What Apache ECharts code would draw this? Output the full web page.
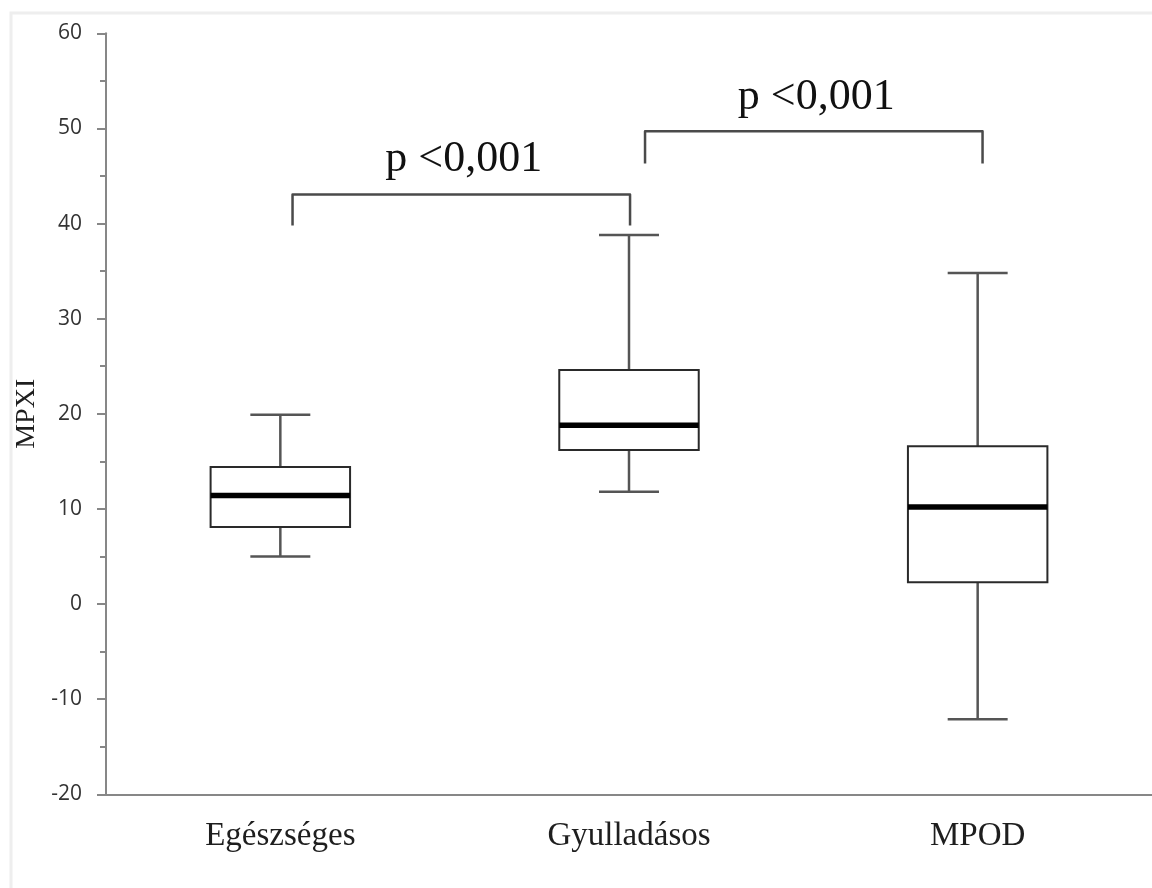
<!DOCTYPE html>
<html>
<head>
<meta charset="utf-8">
<script src="https://cdn.jsdelivr.net/npm/echarts@6/dist/echarts.min.js"></script>
<style>
  html, body { margin: 0; padding: 0; background: #fff; }
  #chart { width: 1152px; height: 888px; }
</style>
</head>
<body>
<div id="chart"></div>
<script>
// box plot values
const categories = ['Egészséges', 'Gyulladásos', 'MPOD'];
const whiskerLow = [5.0, 11.8, -12.1];
const q1 = [8.1, 16.2, 2.3];
const median = [11.4, 18.8, 10.2];
const q3 = [14.4, 24.6, 16.6];
const whiskerHigh = [19.9, 38.8, 34.8];

// significance brackets: [left x, right x, top y, leg bottom y] on a 0..2 category scale
const brackets = [
  [0.035, 1.003, 43.05, 39.8],
  [1.046, 2.014, 49.7, 46.3]
];
const bracketLabels = ['p <0,001', 'p <0,001'];
const bracketLabelPos = [[0.526, 46.7], [1.537, 53.3]];

const yTicks = { min: -20, max: 60, interval: 10 };

const chart = echarts.init(document.getElementById('chart'));

const boxData = categories.map((c, i) => [i, whiskerLow[i], q1[i], median[i], q3[i], whiskerHigh[i]]);
const bracketData = brackets.map((b, i) => [b[0], b[1], b[2], b[3], bracketLabelPos[i][0], bracketLabelPos[i][1], i]);

function renderBox(params, api) {
  const idx = api.value(0);
  const band = api.size([1, 0])[0];
  const boxW = band * 0.4;
  const capW = band * 0.172;
  const low = api.coord([idx, api.value(1)]);
  const lo = api.coord([idx, api.value(2)]);
  const med = api.coord([idx, api.value(3)]);
  const hi = api.coord([idx, api.value(4)]);
  const high = api.coord([idx, api.value(5)]);
  const x = low[0];
  const whisker = { stroke: '#555', lineWidth: 2.5 };
  return {
    type: 'group',
    children: [
      { type: 'line', shape: { x1: x, y1: low[1], x2: x, y2: lo[1] }, style: whisker },
      { type: 'line', shape: { x1: x, y1: hi[1], x2: x, y2: high[1] }, style: whisker },
      { type: 'line', shape: { x1: x - capW / 2, y1: low[1], x2: x + capW / 2, y2: low[1] }, style: whisker },
      { type: 'line', shape: { x1: x - capW / 2, y1: high[1], x2: x + capW / 2, y2: high[1] }, style: whisker },
      {
        type: 'rect',
        shape: { x: x - boxW / 2, y: hi[1], width: boxW, height: lo[1] - hi[1] },
        style: { fill: '#fff', stroke: '#2a2a2a', lineWidth: 2 }
      },
      {
        type: 'line',
        shape: { x1: x - boxW / 2, y1: med[1], x2: x + boxW / 2, y2: med[1] },
        style: { stroke: '#000', lineWidth: 5.5 }
      }
    ]
  };
}

function renderBracket(params, api) {
  const l = api.coord([api.value(0), api.value(3)]);
  const lt = api.coord([api.value(0), api.value(2)]);
  const rt = api.coord([api.value(1), api.value(2)]);
  const r = api.coord([api.value(1), api.value(3)]);
  const t = api.coord([api.value(4), api.value(5)]);
  return {
    type: 'group',
    children: [
      {
        type: 'polyline',
        shape: { points: [l, lt, rt, r] },
        style: { stroke: '#4a4a4a', lineWidth: 2.5, fill: null, lineJoin: 'round' }
      },
      {
        type: 'text',
        x: t[0],
        y: t[1],
        style: {
          text: bracketLabels[api.value(6)],
          fill: '#111',
          font: '44px "Liberation Serif", "Times New Roman", serif',
          align: 'center',
          verticalAlign: 'middle'
        }
      }
    ]
  };
}

chart.setOption({
  animation: false,
  backgroundColor: '#fff',
  graphic: [
    {
      type: 'rect',
      shape: { x: 11, y: 13, width: 1160, height: 900 },
      style: { fill: null, stroke: '#eeeeee', lineWidth: 3 },
      silent: true
    }
  ],
  grid: { left: 106, top: 33.3, width: 1048, bottom: 93.7 },
  xAxis: [
    {
      type: 'category',
      data: categories,
      axisLine: { onZero: false, lineStyle: { color: '#878787', width: 2 } },
      axisTick: { length: 10, lineStyle: { color: '#878787', width: 2 } },
      axisLabel: {
        margin: 26,
        color: '#1e1e1e',
        fontSize: 33,
        fontFamily: '"Liberation Serif", "Times New Roman", serif'
      },
      splitLine: { show: false }
    },
    {
      type: 'value',
      min: -0.5,
      max: 2.5,
      show: false,
      splitLine: { show: false }
    }
  ],
  yAxis: {
    type: 'value',
    min: yTicks.min,
    max: yTicks.max,
    interval: yTicks.interval,
    name: 'MPXI',
    nameLocation: 'middle',
    nameGap: 50,
    nameTextStyle: {
      color: '#1e1e1e',
      fontSize: 28,
      fontFamily: '"Liberation Serif", "Times New Roman", serif'
    },
    axisLine: { show: true, onZero: false, lineStyle: { color: '#878787', width: 2 } },
    axisTick: { show: true, length: 9, lineStyle: { color: '#878787', width: 2 } },
    minorTick: { show: true, splitNumber: 2, length: 6, lineStyle: { color: '#878787', width: 2 } },
    axisLabel: { margin: 24, color: '#333', fontSize: 21, fontFamily: '"Open Sans", Lato, sans-serif' },
    splitLine: { show: false }
  },
  series: [
    {
      type: 'custom',
      name: 'box',
      xAxisIndex: 0,
      renderItem: renderBox,
      encode: { x: 0, y: [1, 2, 3, 4, 5] },
      data: boxData,
      z: 2
    },
    {
      type: 'custom',
      name: 'brackets',
      xAxisIndex: 1,
      renderItem: renderBracket,
      encode: { x: [0, 1], y: [2, 3] },
      data: bracketData,
      z: 3
    }
  ]
});
</script>
</body>
</html>
